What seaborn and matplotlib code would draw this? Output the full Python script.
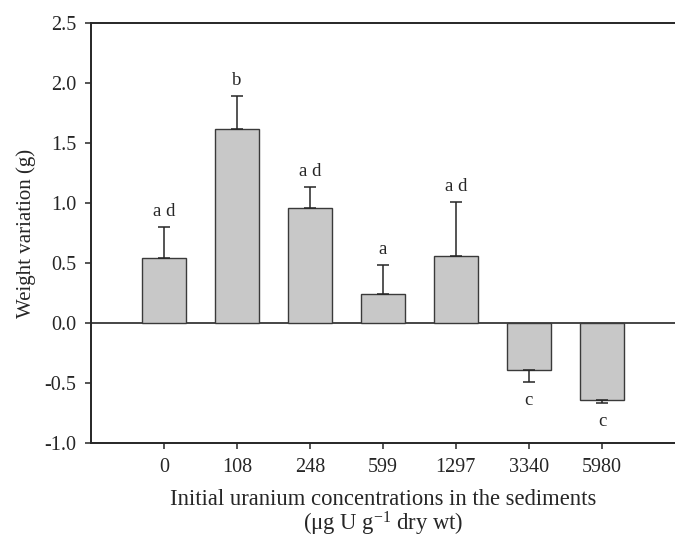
import numpy as np
import pandas as pd
import matplotlib
matplotlib.use('Agg')
import matplotlib.pyplot as plt
import seaborn as sns

# Weight variation of organisms vs. initial uranium in sediments
concentrations = ['0', '108', '248', '599', '1297', '3340', '5980']
weight_change = [0.54, 1.62, 0.96, 0.24, 0.56, -0.39, -0.64]
std_err = [0.26, 0.27, 0.17, 0.24, 0.45, 0.10, 0.03]
letters = ['a d', 'b', 'a d', 'a', 'a d', 'c', 'c']
y_ticks = [-1.0, -0.5, 0.0, 0.5, 1.0, 1.5, 2.0, 2.5]

sns.set_style('ticks')
plt.rcParams['font.family'] = ['Liberation Serif', 'DejaVu Serif']
plt.rcParams['mathtext.fontset'] = 'custom'
plt.rcParams['mathtext.rm'] = 'Liberation Serif'
plt.rcParams['mathtext.default'] = 'regular'
plt.rcParams['axes.unicode_minus'] = False

df = pd.DataFrame({'conc': concentrations, 'weight': weight_change})

fig = plt.figure(figsize=(6.75, 5.38), dpi=100)
ax = fig.add_axes([0.1344, 0.1766, 0.8656, 0.7806])

dark = '#262626'
sns.barplot(data=df, x='conc', y='weight', order=concentrations,
            color='#c8c8c8', saturation=1, edgecolor='#3a3a3a',
            linewidth=1.0, width=0.6, errorbar=None, ax=ax, zorder=3)

# one-sided error bars, pointing away from zero
x = np.arange(len(concentrations))
vals = np.array(weight_change)
errs = np.array(std_err)
lower = np.where(vals < 0, errs, 0)
upper = np.where(vals >= 0, errs, 0)
ax.errorbar(x, vals, yerr=[lower, upper], fmt='none', ecolor=dark,
            elinewidth=1.1, capsize=4.5, capthick=1.1, zorder=4)

ax.axhline(0, color=dark, lw=1.2, zorder=2)

# significance letters
for xi, v, e, lab in zip(x, vals, errs, letters):
    if v >= 0:
        ax.annotate(lab, (xi, v + e), xytext=(0, 8), textcoords='offset points',
                    ha='center', va='baseline', fontsize=13.5)
    else:
        ax.annotate(lab, (xi, v - e), xytext=(0, -7), textcoords='offset points',
                    ha='center', va='top', fontsize=13.5)

ax.set_xlim(-1, 7)
ax.set_ylim(-1.0, 2.5)
ax.set_yticks(y_ticks)
ax.set_yticklabels([f'{t:.1f}' for t in y_ticks])

ax.spines['right'].set_visible(False)
for s in ['left', 'bottom', 'top']:
    ax.spines[s].set_color(dark)
    ax.spines[s].set_linewidth(1.4)

ax.tick_params(axis='both', direction='out', length=4.5, width=1.1,
               color=dark, labelsize=14.5, pad=6)
ax.tick_params(top=False, right=False)

ax.set_xlabel('Initial uranium concentrations in the sediments\n'
              r'($\mu$g U g$^{-1}$ dry wt)', fontsize=16.3, labelpad=9,
              linespacing=1.0)
ax.set_ylabel('Weight variation (g)', fontsize=15, labelpad=6)

fig.savefig('out.png', dpi=100)
plt.close(fig)
